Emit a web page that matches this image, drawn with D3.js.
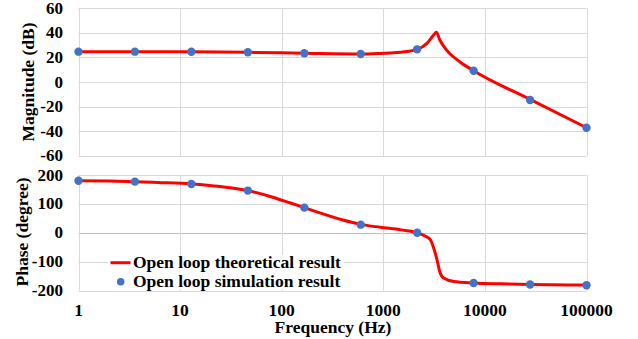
<!DOCTYPE html>
<html><head><meta charset="utf-8">
<script src="https://cdn.jsdelivr.net/npm/d3@7"></script>
<style>body{margin:0;background:#fff}svg{display:block}</style>
</head><body><svg id="c" width="638" height="339"></svg>
<script>
// Frequencies (Hz)
const simFreq = [1, 3.59, 12.9, 46.4, 167, 599, 2154, 7743, 27826, 100000];
const simMag = [24.7, 24.7, 24.6, 24.2, 23.4, 22.8, 26.6, 9.2, -14.6, -37.2];
const simPhase = [180, 177, 169, 146, 87, 28, 0, -174, -179, -182];

const theoMagFreq = [1, 3.59, 12.9, 46.4, 167, 599, 935, 1470, 2154, 2690, 3135, 3330, 3600, 4200, 5650, 7743, 27826, 100000];
const theoMag = [24.7, 24.7, 24.6, 24.2, 23.4, 22.8, 23.3, 24.2, 26.6, 31.5, 38.3, 40.5, 34.2, 26, 16.5, 9.2, -14.2, -37.2];

const theoPhaseFreq = [1, 2, 3.59, 6, 12.9, 25, 46.4, 80, 120, 167, 250, 400, 599, 935, 1500, 2154, 2600, 2904, 3133, 3380, 3590, 3930, 4950, 7743, 14200, 27826, 100000];
const theoPhase = [180, 179, 177, 174, 169, 160, 146, 124, 104, 87, 66, 44, 29, 19, 10, 0, -12, -24, -53, -94, -134, -157, -169, -174, -177, -179, -181];

const xTicks = [1, 10, 100, 1000, 10000, 100000];
const magTicks = [60, 40, 20, 0, -20, -40, -60];
const phaseTicks = [200, 100, 0, -100, -200];
const legendLabels = ["Open loop theoretical result", "Open loop simulation result"];

const svg = d3.select("#c");
const x = d3.scaleLog().domain([1, 100000]).range([78.5, 586.5]);
const yMag = d3.scaleLinear().domain([-60, 60]).range([155.7, 8.3]);
const yPh = d3.scaleLinear().domain([-200, 200]).range([290.5, 175]);
const FS = 17.5;
const FONT = "Liberation Serif";
function txt(sel, fs) {
  return sel.attr("font-family", FONT).attr("font-weight", "bold").attr("font-size", fs || FS).attr("fill", "#000");
}

function panel(y, ticks, zeroDark) {
  const g = svg.append("g");
  g.selectAll("line.h").data(ticks).enter().append("line")
    .attr("x1", x.range()[0]).attr("x2", x.range()[1])
    .attr("y1", d => Math.round(y(d)) + 0.5).attr("y2", d => Math.round(y(d)) + 0.5)
    .attr("stroke", d => (zeroDark && d === 0) ? "#bfbfbf" : "#d9d9d9").attr("stroke-width", 1);
  g.selectAll("line.v").data(xTicks).enter().append("line")
    .attr("x1", d => Math.round(x(d)) + 0.5).attr("x2", d => Math.round(x(d)) + 0.5)
    .attr("y1", y.range()[1]).attr("y2", y.range()[0])
    .attr("stroke", "#d9d9d9").attr("stroke-width", 1);
  txt(g.selectAll("text.yt").data(ticks).enter().append("text"), 17)
    .attr("x", 63).attr("y", d => y(d)).attr("dy", "0.33em")
    .attr("text-anchor", "end").text(d => String(d));
  return g;
}
panel(yMag, magTicks, false);
panel(yPh, phaseTicks, true);

txt(svg.selectAll("text.xt").data(xTicks).enter().append("text"))
  .attr("x", d => x(d)).attr("y", 315.5).attr("text-anchor", "middle")
  .text(d => String(d));

txt(svg.append("text")).attr("transform", "translate(34,82) rotate(-90)")
  .attr("text-anchor", "middle").text("Magnitude  (dB)");
txt(svg.append("text")).attr("transform", "translate(28,232) rotate(-90)")
  .attr("text-anchor", "middle").text("Phase (degree)");
txt(svg.append("text")).attr("x", 333).attr("y", 333)
  .attr("text-anchor", "middle").text("Frequency (Hz)");

svg.append("rect").attr("x", 108).attr("y", 255).attr("width", 236).attr("height", 34).attr("fill", "#fff");

const lineMag = d3.line().x((d, i) => x(theoMagFreq[i])).y(d => yMag(d)).curve(d3.curveMonotoneX);
const linePh = d3.line().x((d, i) => x(theoPhaseFreq[i])).y(d => yPh(d)).curve(d3.curveMonotoneX);
svg.append("path").attr("d", lineMag(theoMag)).attr("fill", "none").attr("stroke", "#ff0000").attr("stroke-width", 3);
svg.append("path").attr("d", linePh(theoPhase)).attr("fill", "none").attr("stroke", "#ff0000").attr("stroke-width", 3);

svg.selectAll("circle.m").data(simMag).enter().append("circle")
  .attr("cx", (d, i) => x(simFreq[i])).attr("cy", d => yMag(d)).attr("r", 4.2).attr("fill", "#4472c4");
svg.selectAll("circle.p").data(simPhase).enter().append("circle")
  .attr("cx", (d, i) => x(simFreq[i])).attr("cy", d => yPh(d)).attr("r", 4.2).attr("fill", "#4472c4");

svg.append("line").attr("x1", 110.5).attr("x2", 130.5).attr("y1", 262.7).attr("y2", 262.7)
  .attr("stroke", "#ff0000").attr("stroke-width", 3);
svg.append("circle").attr("cx", 120.7).attr("cy", 281.7).attr("r", 3.8).attr("fill", "#4472c4");
txt(svg.append("text")).attr("x", 133).attr("y", 268).text(legendLabels[0]);
txt(svg.append("text")).attr("x", 133).attr("y", 287).text(legendLabels[1]);
</script></body></html>
